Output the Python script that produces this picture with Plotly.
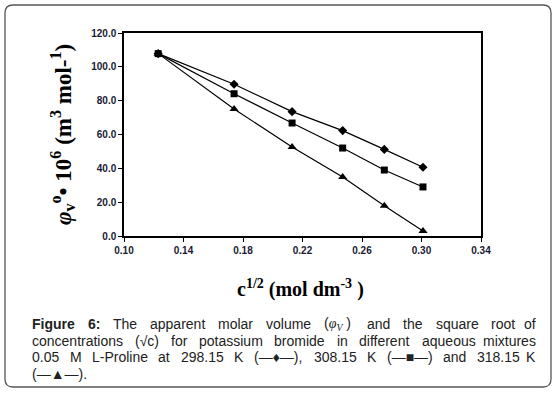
import plotly.graph_objects as go

# ---- data ----
sqrt_c = [0.123, 0.174, 0.213, 0.247, 0.275, 0.301]
phi_298 = [107.8, 89.7, 73.5, 62.3, 51.2, 40.6]
phi_308 = [107.8, 84.1, 66.8, 52.0, 39.0, 29.0]
phi_318 = [107.8, 75.1, 52.6, 34.9, 17.9, 3.0]
series_names = ["298.15 K", "308.15 K", "318.15 K"]
x_ticks = [0.10, 0.14, 0.18, 0.22, 0.26, 0.30, 0.34]
y_ticks = [0, 20, 40, 60, 80, 100, 120]

W, H = 557, 396
L, R, T, B = 124, 481, 33, 236  # plot area in px


def px(x):
    return (x - L) / (R - L)


def py(y):
    return (B - y) / (B - T)


fig = go.Figure()
for ys, sym, sz, nm in [(phi_298, "diamond", 7, series_names[0]),
                        (phi_318, "triangle-up", 8, series_names[2]),
                        (phi_308, "square", 7, series_names[1])]:
    fig.add_trace(go.Scatter(x=sqrt_c, y=ys, mode="lines+markers", name=nm,
                             line=dict(color="black", width=1.2),
                             marker=dict(symbol=sym, size=sz, color="black"),
                             showlegend=False))

tickfont = dict(family="Arial, Liberation Sans, sans-serif", size=10, color="#1a1a33")
fig.update_xaxes(range=[0.10, 0.34], tickvals=x_ticks,
                 ticktext=[f"<b>{v:.2f}</b>" for v in x_ticks],
                 showline=True, linecolor="black", linewidth=1.5, mirror=True,
                 ticks="outside", ticklen=4, tickcolor="black", tickwidth=1,
                 showgrid=False, zeroline=False, tickfont=tickfont)
fig.update_yaxes(range=[0, 120], tickvals=y_ticks,
                 ticktext=[f"<b>{v:.1f}</b>" for v in y_ticks],
                 showline=True, linecolor="black", linewidth=1.5, mirror=True,
                 ticks="outside", ticklen=4, tickcolor="black", tickwidth=1,
                 showgrid=False, zeroline=False, tickfont=tickfont)

serif = "Liberation Serif, Times New Roman, serif"
ann = []
ann.append(dict(x=px(62), y=py(135), xref="paper", yref="paper", textangle=-90,
                text="<b><i>φ</i><sub>v</sub><sup>o</sup>• 10<sup>6</sup> (m<sup>3</sup> mol-<sup>1</sup>)</b>",
                showarrow=False, font=dict(family=serif, size=23, color="black"),
                xanchor="center", yanchor="middle"))
ann.append(dict(x=px(300), y=py(288), xref="paper", yref="paper",
                text="<b>c<sup>1/2</sup> (mol dm<sup>-3</sup> )</b>",
                showarrow=False, font=dict(family=serif, size=20, color="black"),
                xanchor="center", yanchor="middle"))

# ---- caption (justified word by word) ----
AW = {' ': 278, '(': 333, ')': 333, ',': 278, '-': 333, '.': 278, ':': 278, '/': 278,
      'A': 667, 'F': 611, 'K': 667, 'L': 556, 'M': 833, 'P': 667, 'T': 611, 'V': 667,
      'a': 556, 'b': 556, 'c': 500, 'd': 556, 'e': 556, 'f': 278, 'g': 556, 'h': 556,
      'i': 222, 'j': 222, 'k': 500, 'l': 222, 'm': 833, 'n': 556, 'o': 556, 'p': 556,
      'q': 556, 'r': 333, 's': 500, 't': 278, 'u': 556, 'v': 500, 'w': 722, 'x': 500,
      'y': 500, 'z': 500, '—': 1000, '√': 549, '♦': 600, '■': 600, '▲': 750, 'φ': 520}
BW = {'F': 611, 'i': 278, 'g': 611, 'u': 611, 'r': 389, 'e': 556, ':': 333, '6': 556}
FS = 14


def wid(word, bold=False):
    tot = 0
    for ch in word:
        if ch.isdigit():
            tot += 556
        elif bold:
            tot += BW.get(ch, 600)
        else:
            tot += AW.get(ch, 556)
    return tot * FS / 1000


phi_word = "(<span style='font-family:Liberation Serif'><i>φ</i><sub><i>V</i></sub></span> )"
lines = [
    [("<b>Figure</b>", wid("Figure", True)), ("<b>6:</b>", wid("6:", True)),
     ("The", wid("The")), ("apparent", wid("apparent")), ("molar", wid("molar")),
     ("volume", wid("volume")), (phi_word, wid("(φV )")), ("and", wid("and")),
     ("the", wid("the")), ("square", wid("square")), ("root", wid("root")), ("of", wid("of"))],
    [(w, wid(w)) for w in "concentrations (√c) for potassium bromide in different aqueous mixtures".split()],
    [(w, wid(w)) for w in "0.05 M L-Proline at 298.15 K (—♦—), 308.15 K (—■—) and 318.15 K".split()],
]
baselines = [324, 340.5, 357, 373.5]
CL, CR = 30, 538
capfont = dict(family="Arial, Liberation Sans, sans-serif", size=FS, color="#222")
for li, words in enumerate(lines):
    total = sum(w for _, w in words)
    gap = (CR - CL - total) / (len(words) - 1)
    xcur = CL
    for wi, (txt, w) in enumerate(words):
        if wi == len(words) - 1:
            ann.append(dict(x=px(CR), y=py(baselines[li]), xref="paper", yref="paper",
                            text=txt, showarrow=False, font=capfont,
                            xanchor="right", yanchor="middle"))
        else:
            ann.append(dict(x=px(xcur), y=py(baselines[li]), xref="paper", yref="paper",
                            text=txt, showarrow=False, font=capfont,
                            xanchor="left", yanchor="middle"))
        xcur += w + gap
ann.append(dict(x=px(CL), y=py(baselines[3]), xref="paper", yref="paper",
                text="(—▲—).", showarrow=False, font=capfont,
                xanchor="left", yanchor="middle"))

# rounded outer frame
x0, y0, x1, y1, r = 5, 5, 551, 387, 8
path = (f"M {px(x0+r)},{py(y0)} L {px(x1-r)},{py(y0)} Q {px(x1)},{py(y0)} {px(x1)},{py(y0+r)} "
        f"L {px(x1)},{py(y1-r)} Q {px(x1)},{py(y1)} {px(x1-r)},{py(y1)} "
        f"L {px(x0+r)},{py(y1)} Q {px(x0)},{py(y1)} {px(x0)},{py(y1-r)} "
        f"L {px(x0)},{py(y0+r)} Q {px(x0)},{py(y0)} {px(x0+r)},{py(y0)} Z")

fig.update_layout(width=W, height=H, margin=dict(l=L, r=W - R, t=T, b=H - B),
                  paper_bgcolor="white", plot_bgcolor="white",
                  annotations=ann,
                  shapes=[dict(type="path", path=path, xref="paper", yref="paper",
                               line=dict(color="#555", width=1.3), layer="below")])
fig.write_html("out.html", config={"displayModeBar": False},
               post_script="document.body.style.margin='0px';document.body.style.overflow='hidden';")
